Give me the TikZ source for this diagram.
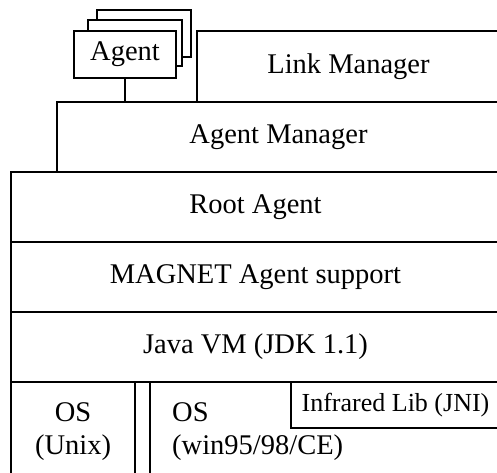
\documentclass[tikz,border=0pt]{standalone}
\usepackage{fontspec}
\setmainfont{Liberation Serif}
\usetikzlibrary{positioning}

\tikzset{
  layer/.style={draw,line width=1.2pt,inner sep=0pt,outer sep=0pt,fill=white,
    font=\fontsize{28.5}{33}\selectfont},
  small layer/.style={layer,font=\fontsize{26}{30}\selectfont}
}

\begin{document}
\begin{tikzpicture}[x=1pt,y=-1pt]
\clip (0,0) rectangle (497,472);
% stacked agents
\node[layer,minimum width=94pt,minimum height=47pt] (agentback) at (144,33.5) {};
\node[layer,minimum width=94pt,minimum height=46pt] (agentmid) at (135,43) {};
\node[layer,minimum width=102pt,minimum height=47pt] (agent) at (125,54.5) {Agent};

% layers
\node[layer,minimum width=303pt,minimum height=71pt] (linkmgr) at (348.5,66.5) {Link Manager};
\node[layer,minimum width=443pt,minimum height=70pt] (agentmgr) at (278.5,137) {Agent Manager};
\node[layer,minimum width=489pt,minimum height=70pt] (rootagent) at (255.5,207) {Root Agent};
\node[layer,minimum width=489pt,minimum height=70pt] (magnet) at (255.5,277) {MAGNET Agent support};
\node[layer,minimum width=489pt,minimum height=70pt] (javavm) at (255.5,347) {Java VM (JDK 1.1)};

% operating systems
\node[layer,minimum width=124pt,minimum height=100pt,align=center] (unix) at (73,432) {OS\\(Unix)};
\node[layer,minimum width=350pt,minimum height=100pt] (win) at (325,432) {};
\node[font=\fontsize{28.5}{33}\selectfont,inner sep=0pt,anchor=west,align=left] (wintext) at (172,432) {OS\\(win95/98/CE)};
\node[small layer,minimum width=209pt,minimum height=46pt] (infrared) at (395.5,405) {Infrared Lib (JNI)};

\draw[line width=1.2pt] (agent.south) -- (agent.south |- agentmgr.north);
\end{tikzpicture}
\end{document}
